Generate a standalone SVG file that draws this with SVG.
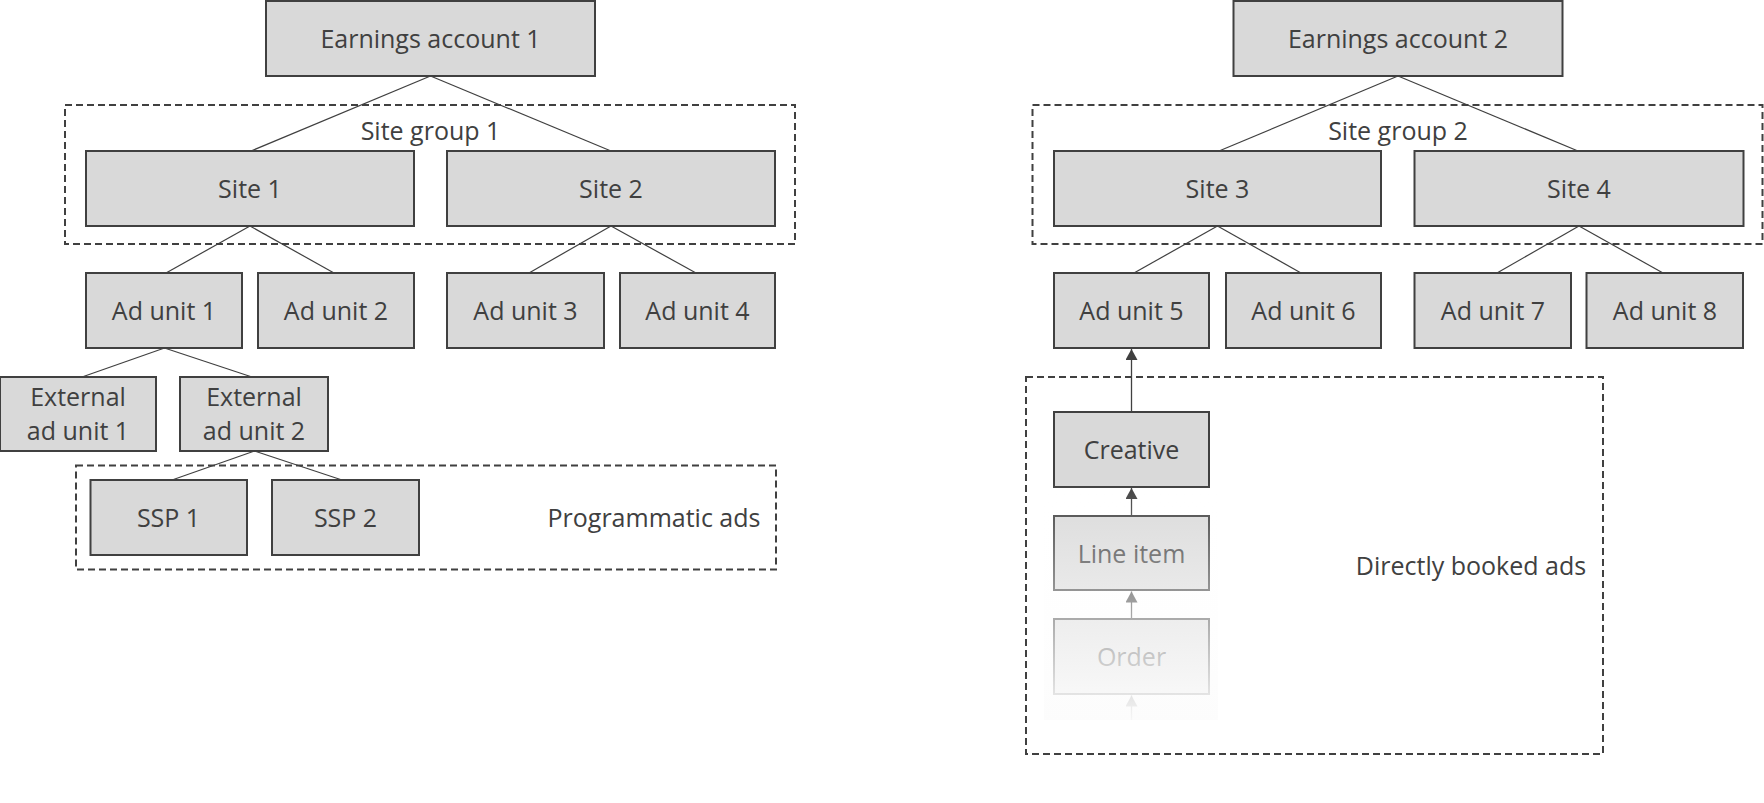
<svg xmlns="http://www.w3.org/2000/svg" width="1764" height="803" viewBox="0 0 1764 803">
<defs>
<style>
.box{fill:#d9d9d9;stroke:#404040;stroke-width:2}
.grp{fill:none;stroke:#404040;stroke-width:2;stroke-dasharray:7 4}
.t{font-family:"Open Sans","Noto Sans","Liberation Sans",sans-serif;font-size:25px;fill:#404040;text-anchor:middle}
.c{stroke:#404040;stroke-width:1.2;fill:none}
.a{stroke:#404040;stroke-width:1.3;fill:none;marker-end:url(#arr)}
</style>
<marker id="arr" markerUnits="userSpaceOnUse" markerWidth="12" markerHeight="12" refX="11" refY="6" orient="auto">
<path d="M0,0 L11,6 L0,12 Z" fill="#404040"/>
</marker>
<linearGradient id="fade" x1="0" y1="0" x2="0" y2="1">
<stop offset="0" stop-color="#ffffff" stop-opacity="0"/>
<stop offset="1" stop-color="#fcfcfc" stop-opacity="0.97"/>
</linearGradient>
</defs>
<rect width="1764" height="803" fill="#ffffff"/>

<g id="groups">
<g id="site-group-1"><rect class="grp" x="65" y="105" width="730" height="139"/><text class="t" x="430.5" y="140">Site group 1</text></g>
<g id="programmatic-ads"><rect class="grp" x="76" y="465.5" width="700" height="104"/><text class="t" x="654" y="527">Programmatic ads</text></g>
<g id="site-group-2"><rect class="grp" x="1032.5" y="105" width="730" height="139"/><text class="t" x="1398" y="140">Site group 2</text></g>
<g id="directly-booked-ads"><rect class="grp" x="1026" y="377" width="577" height="377"/><text class="t" x="1471" y="575">Directly booked ads</text></g>
</g>

<g id="connectors">
<line class="c" x1="430.5" y1="76" x2="251" y2="151"/>
<line class="c" x1="430.5" y1="76" x2="611" y2="151"/>
<line class="c" x1="250" y1="226" x2="166" y2="273"/>
<line class="c" x1="250" y1="226" x2="334" y2="273"/>
<line class="c" x1="611" y1="226" x2="529" y2="273"/>
<line class="c" x1="611" y1="226" x2="696" y2="273"/>
<line class="c" x1="164.5" y1="348" x2="82" y2="377"/>
<line class="c" x1="164.5" y1="348" x2="252" y2="377"/>
<line class="c" x1="254.5" y1="451" x2="172" y2="480"/>
<line class="c" x1="254.5" y1="451" x2="342" y2="480"/>
<line class="c" x1="1398" y1="76" x2="1219" y2="151"/>
<line class="c" x1="1398" y1="76" x2="1578" y2="151"/>
<line class="c" x1="1217.5" y1="226" x2="1134" y2="273"/>
<line class="c" x1="1217.5" y1="226" x2="1301" y2="273"/>
<line class="c" x1="1579" y1="226" x2="1497" y2="273"/>
<line class="c" x1="1579" y1="226" x2="1663" y2="273"/>
<line class="a" x1="1131.5" y1="412" x2="1131.5" y2="349"/>
<line class="a" x1="1131.5" y1="516" x2="1131.5" y2="488"/>
<line class="a" x1="1131.5" y1="619" x2="1131.5" y2="591.5"/>
<line class="a" x1="1131.5" y1="720" x2="1131.5" y2="695.5"/>
</g>

<g id="earnings-account-1"><rect class="box" x="266" y="1" width="329" height="75"/><text class="t" x="430.5" y="48">Earnings account 1</text></g>
<g id="site-1"><rect class="box" x="86" y="151" width="328" height="75"/><text class="t" x="250" y="198">Site 1</text></g>
<g id="site-2"><rect class="box" x="447" y="151" width="328" height="75"/><text class="t" x="611" y="198">Site 2</text></g>
<g id="ad-unit-1"><rect class="box" x="86" y="273" width="156" height="75"/><text class="t" x="164" y="320">Ad unit 1</text></g>
<g id="ad-unit-2"><rect class="box" x="258" y="273" width="156" height="75"/><text class="t" x="336" y="320">Ad unit 2</text></g>
<g id="ad-unit-3"><rect class="box" x="447" y="273" width="157" height="75"/><text class="t" x="525.5" y="320">Ad unit 3</text></g>
<g id="ad-unit-4"><rect class="box" x="620" y="273" width="155" height="75"/><text class="t" x="697.5" y="320">Ad unit 4</text></g>
<g id="external-ad-unit-1"><rect class="box" x="0" y="377" width="156" height="74"/><text class="t" x="78" y="406">External</text><text class="t" x="78" y="440">ad unit 1</text></g>
<g id="external-ad-unit-2"><rect class="box" x="180" y="377" width="148" height="74"/><text class="t" x="254" y="406">External</text><text class="t" x="254" y="440">ad unit 2</text></g>
<g id="ssp-1"><rect class="box" x="90.5" y="480" width="156.5" height="75"/><text class="t" x="168.5" y="527">SSP 1</text></g>
<g id="ssp-2"><rect class="box" x="272" y="480" width="147" height="75"/><text class="t" x="345.5" y="527">SSP 2</text></g>

<g id="earnings-account-2"><rect class="box" x="1233.5" y="1" width="329" height="75"/><text class="t" x="1398" y="48">Earnings account 2</text></g>
<g id="site-3"><rect class="box" x="1054" y="151" width="327" height="75"/><text class="t" x="1217.5" y="198">Site 3</text></g>
<g id="site-4"><rect class="box" x="1414.5" y="151" width="329" height="75"/><text class="t" x="1579" y="198">Site 4</text></g>
<g id="ad-unit-5"><rect class="box" x="1054" y="273" width="155" height="75"/><text class="t" x="1131.5" y="320">Ad unit 5</text></g>
<g id="ad-unit-6"><rect class="box" x="1226" y="273" width="155" height="75"/><text class="t" x="1303.5" y="320">Ad unit 6</text></g>
<g id="ad-unit-7"><rect class="box" x="1414.5" y="273" width="156.5" height="75"/><text class="t" x="1493" y="320">Ad unit 7</text></g>
<g id="ad-unit-8"><rect class="box" x="1586.5" y="273" width="156.5" height="75"/><text class="t" x="1665" y="320">Ad unit 8</text></g>
<g id="creative"><rect class="box" x="1054" y="412" width="155" height="75"/><text class="t" x="1131.5" y="459">Creative</text></g>
<g id="line-item"><rect class="box" x="1054" y="516" width="155" height="74"/><text class="t" x="1131.5" y="562.5">Line item</text></g>
<g id="order"><rect class="box" x="1054" y="619" width="155" height="75"/><text class="t" x="1131.5" y="666">Order</text></g>
<rect id="fade-overlay" x="1044" y="480" width="174" height="240" fill="url(#fade)"/>
</svg>
